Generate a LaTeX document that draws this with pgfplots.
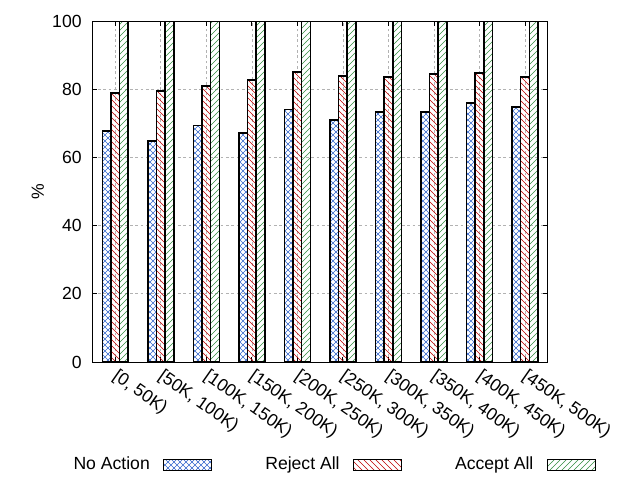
\documentclass[border=0pt]{standalone}
\usepackage{fontspec}
\setmainfont{Liberation Sans}
\usepackage{pgfplots}
\pgfplotsset{compat=1.18}
\usetikzlibrary{patterns.meta}
\definecolor{cblue}{rgb}{0.2,0.4,0.8}
\definecolor{cred}{rgb}{0.75,0.0,0.0}
\definecolor{cgreen}{rgb}{0.2,0.55,0.25}
\tikzdeclarepattern{
  name=myne, type=uncolored,
  bottom left={(-.1pt,-.1pt)}, top right={(4.6pt,4.6pt)},
  tile size={(4.5pt,4.5pt)},
  code={\draw[line width=0.45pt] (-.1pt,-.1pt) -- (4.6pt,4.6pt);}
}
\tikzdeclarepattern{
  name=mynw, type=uncolored,
  bottom left={(-.1pt,-.1pt)}, top right={(4.6pt,4.6pt)},
  tile size={(4.5pt,4.5pt)},
  code={\draw[line width=0.45pt] (-.1pt,4.6pt) -- (4.6pt,-.1pt);}
}
\tikzdeclarepattern{
  name=myx, type=uncolored,
  bottom left={(-.1pt,-.1pt)}, top right={(4.6pt,4.6pt)},
  tile size={(4.5pt,4.5pt)},
  code={\draw[line width=0.45pt] (-.1pt,-.1pt) -- (4.6pt,4.6pt) (-.1pt,4.6pt) -- (4.6pt,-.1pt);}
}
\begin{document}
\fontsize{13.2}{15}\selectfont
\begin{tikzpicture}
\path[use as bounding box] (0,0) rectangle (480pt,360pt);
\begin{axis}[
  at={(69.4pt,88.5pt)}, anchor=south west,
  scale only axis, width=341.4pt, height=255.75pt,
  xmin=-0.5, xmax=9.5, ymin=0, ymax=100,
  xtick={0,1,2,3,4,5,6,7,8,9},
  xticklabels={{[0, 50K)},{[50K, 100K)},{[100K, 150K)},{[150K, 200K)},{[200K, 250K)},{[250K, 300K)},{[300K, 350K)},{[350K, 400K)},{[400K, 450K)},{[450K, 500K)}},
  ytick={0,20,40,60,80,100},
  /pgf/number format/assume math mode=true,
  tick align=inside, major tick length=3.5pt,
  tick style={black, line width=0.6pt},
  axis line style={line width=0.75pt},
  grid=major,
  major grid style={gray!60, dash pattern=on 2pt off 2pt, line width=0.5pt},
  xticklabel shift=4.5pt,
  xticklabel style={xshift=3pt, rotate=-35, anchor=north west, inner sep=0pt},
  yticklabel style={inner sep=0pt, xshift=-8pt},
  ylabel={\%},
  ylabel style={at={(axis description cs:-0.12,0.5)}, anchor=center},
  legend plot pos=right,
  legend columns=3,
  legend style={draw=none, fill=none, at={(0.5316,-0.3006)}, anchor=center,
    nodes={inner sep=0pt},
    /tikz/every odd column/.append style={column sep=10pt},
    /tikz/every even column/.append style={column sep=40pt}},
  legend image code/.code={\draw[#1, line width=0.6pt] (0pt,-4.1pt) rectangle (36pt,4.1pt);},
]
\addplot[ybar, bar width=0.19, bar shift=-0.19, draw=black, line width=1.2pt, pattern={myx}, pattern color=cblue]
  coordinates {(0,67.7) (1,64.8) (2,69.4) (3,67.2) (4,74.1) (5,70.9) (6,73.3) (7,73.3) (8,76.0) (9,74.8)};
\addlegendentry{No Action}
\addplot[ybar, bar width=0.19, bar shift=0, draw=black, line width=1.2pt, pattern={mynw}, pattern color=cred]
  coordinates {(0,78.8) (1,79.4) (2,80.9) (3,82.7) (4,85.0) (5,83.9) (6,83.6) (7,84.4) (8,84.7) (9,83.6)};
\addlegendentry{Reject All}
\addplot[ybar, bar width=0.19, bar shift=0.19, draw=black, line width=1.2pt, pattern={myne}, pattern color=cgreen]
  coordinates {(0,100) (1,100) (2,100) (3,100) (4,100) (5,100) (6,100) (7,100) (8,100) (9,100)};
\addlegendentry{Accept All}
\end{axis}
\end{tikzpicture}
\end{document}
